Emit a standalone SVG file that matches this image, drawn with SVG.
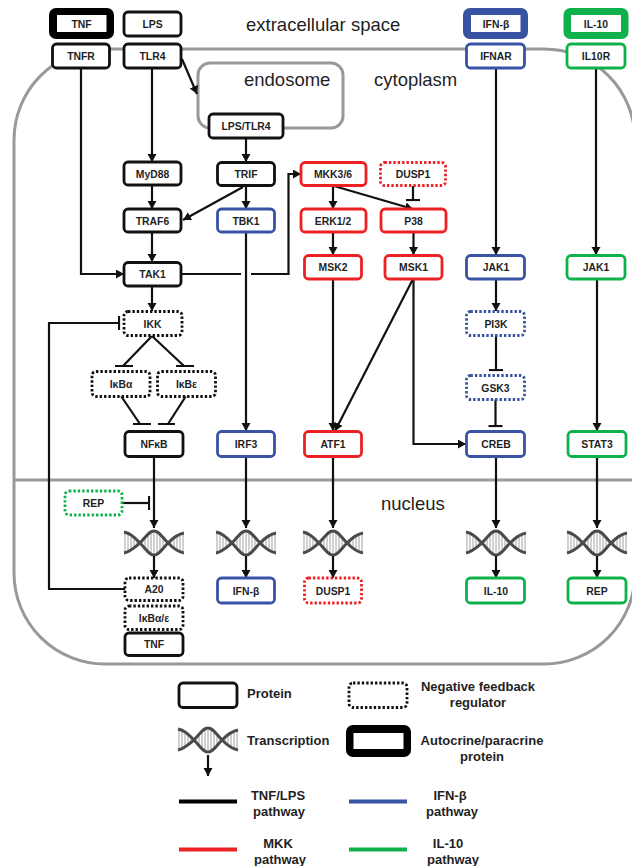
<svg xmlns="http://www.w3.org/2000/svg" xmlns:xlink="http://www.w3.org/1999/xlink" width="632" height="866" viewBox="0 0 632 866">
<style>
text{font-family:"Liberation Sans",Arial,sans-serif;fill:#1f1f1f}
.n rect{fill:#fff;stroke-width:2.8}
.n text{font-size:10.4px;font-weight:700;text-anchor:middle}
.k rect{stroke:#111}.b rect{stroke:#3953a4}.r rect{stroke:#ed2024}.g rect{stroke:#0fb14b}
.d rect{stroke-dasharray:2.4 2}
.t rect{stroke:none}
.t.k .o{fill:#000}.t.b .o{fill:#3953a4}.t.g .o{fill:#0fb14b}
.region{font-size:18.5px}
.lg{font-size:13px;font-weight:700;text-anchor:middle}
.ll{font-size:13px;font-weight:700}
.wall{fill:none;stroke:#999;stroke-width:3}
#connectors path{fill:none;stroke:#111;stroke-width:2.2}
.a{marker-end:url(#arrow)}
.i{marker-end:url(#tbar)}
.strand{fill:none;stroke:#4a4a4a;stroke-width:3}
.rung{stroke:#8a8a8a;stroke-width:.8}
</style>
<defs>
<marker id="arrow" markerUnits="userSpaceOnUse" markerWidth="10" markerHeight="10" refX="8" refY="4.500" orient="auto"><path d="M0 0L8 4.500L0 9Z" fill="#111"/></marker>
<marker id="tbar" markerUnits="userSpaceOnUse" markerWidth="4" markerHeight="16" refX="1.500" refY="7" orient="auto"><path d="M1.500 0V14" stroke="#111" stroke-width="2.200" fill="none"/></marker>
<g id="helix">
<path class="rung" d="M-29 3V23M-26 3V22M-23 5V20M-20 6V19M-17 9V16M-9 8V17M-6 5V20M-3 3V23M0 3V23M3 3V23M6 5V20M9 8V17M17 9V17M20 6V19M23 5V20M26 3V22M29 3V23"/>
<path class="strand" d="M-30 2C-24 3-20 7-14 13C-8 19-5 25 0 25C5 25 8 19 14 13C19 8 24 4 30 3"/>
<path class="strand" d="M-30 23C-24 22-20 18-14 13C-8 7-5 1 0 1C5 1 8 7 14 13C19 18 24 22 30 23"/>
</g>
</defs>

<g id="walls">
<rect class="wall" x="14" y="49" width="621" height="615" rx="91"/>
<path class="wall" d="M14 480H632"/>
<rect class="wall" x="198" y="63" width="145" height="65" rx="12"/>
</g>

<g id="labels">
<text class="region" x="246" y="31">extracellular space</text>
<text class="region" x="244" y="86">endosome</text>
<text class="region" x="374" y="86">cytoplasm</text>
<text class="region" x="381" y="510">nucleus</text>
</g>

<g id="helices">
<use xlink:href="#helix" href="#helix" x="154" y="530"/>
<use xlink:href="#helix" href="#helix" x="246" y="530"/>
<use xlink:href="#helix" href="#helix" x="333" y="530"/>
<use xlink:href="#helix" href="#helix" x="496" y="530"/>
<use xlink:href="#helix" href="#helix" x="597" y="530"/>
<use xlink:href="#helix" href="#helix" x="208" y="727"/>
</g>

<g id="connectors">
<path class="a" d="M81 68V274H124"/>
<path class="a" d="M152 68V162"/>
<path class="a" d="M182 59L197 94"/>
<path class="a" d="M246 138V162"/>
<path class="a" d="M152 185V209"/>
<path class="a" d="M243 187L183 220"/>
<path class="a" d="M246 186V209"/>
<path class="a" d="M152 233V262"/>
<path d="M181 274H241"/>
<path class="a" d="M251 274H288.500V174H301"/>
<path class="a" d="M246 232V431"/>
<path class="a" d="M152 286V311"/>
<path class="a" d="M333 186V209"/>
<path class="a" d="M334 186L413 209"/>
<path class="i" d="M413 186V200"/>
<path class="a" d="M333 232V255"/>
<path class="a" d="M413.500 232V255"/>
<path class="a" d="M333 279V431"/>
<path class="a" d="M413 279L335 431"/>
<path class="a" d="M413.500 279V444H466"/>
<path class="a" d="M496 68V255"/>
<path class="a" d="M496 279V311"/>
<path class="i" d="M496 335V370"/>
<path class="i" d="M495.500 399V426"/>
<path class="a" d="M596 68V255"/>
<path class="a" d="M597 279V431"/>
<path d="M152 336L123 366M115 366H133"/>
<path d="M152 336L184 366M176 366H194"/>
<path d="M121 396L140 424M133 424H151"/>
<path d="M186 396L168 424M158 424H175"/>
<path class="i" d="M125 589H49V323H119"/>
<path class="a" d="M154 456V528"/>
<path class="i" d="M122 503H149"/>
<path class="a" d="M246 456V528"/>
<path class="a" d="M333 456V528"/>
<path class="a" d="M496 456V528"/>
<path class="a" d="M597 456V528"/>
<path class="a" d="M154 556V578"/>
<path class="a" d="M246 556V578"/>
<path class="a" d="M333 556V578"/>
<path class="a" d="M496 556V578"/>
<path class="a" d="M597 556V578"/>
<path class="a" d="M208 755V776"/>
</g>

<g id="n-tnf-out" class="n k t"><rect class="o" x="49" y="8" width="65" height="31" rx="7"/><rect x="57" y="15" width="49.500" height="17"/><text x="81.500" y="28">TNF</text></g>
<g id="n-lps" class="n k"><rect x="124" y="12" width="57" height="24" rx="4"/><text x="152.500" y="28">LPS</text></g>
<g id="n-ifnb-out" class="n b t"><rect class="o" x="463" y="8" width="65" height="31" rx="7"/><rect x="471" y="15" width="49.500" height="17"/><text x="496" y="28">IFN-β</text></g>
<g id="n-il10-out" class="n g t"><rect class="o" x="563.500" y="8" width="65" height="31" rx="7"/><rect x="571" y="15" width="50" height="17"/><text x="596" y="28">IL-10</text></g>
<g id="n-tnfr" class="n k"><rect x="52.500" y="44" width="57" height="24" rx="4"/><text x="81" y="60">TNFR</text></g>
<g id="n-tlr4" class="n k"><rect x="124" y="44" width="57" height="24" rx="4"/><text x="152.500" y="60">TLR4</text></g>
<g id="n-ifnar" class="n b"><rect x="466.500" y="44" width="58" height="24" rx="4"/><text x="496" y="60">IFNAR</text></g>
<g id="n-il10r" class="n g"><rect x="567" y="44" width="58" height="24" rx="4"/><text x="596" y="60">IL10R</text></g>
<g id="n-lpstlr4" class="n k"><rect x="209" y="114" width="74" height="24" rx="4"/><text x="246" y="130">LPS/TLR4</text></g>
<g id="n-myd88" class="n k"><rect x="124" y="162" width="57" height="23" rx="4"/><text x="152.500" y="178">MyD88</text></g>
<g id="n-trif" class="n k"><rect x="217.500" y="162.500" width="57" height="23" rx="4"/><text x="246" y="178">TRIF</text></g>
<g id="n-mkk" class="n r"><rect x="301" y="162.500" width="65" height="23" rx="4"/><text x="333" y="178">MKK3/6</text></g>
<g id="n-dusp1a" class="n r d"><rect x="380.500" y="162.500" width="65" height="23" rx="4"/><text x="413" y="178">DUSP1</text></g>
<g id="n-traf6" class="n k"><rect x="124" y="209" width="57" height="23" rx="4"/><text x="152.500" y="225">TRAF6</text></g>
<g id="n-tbk1" class="n b"><rect x="217.500" y="209" width="57" height="23" rx="4"/><text x="246" y="225">TBK1</text></g>
<g id="n-erk" class="n r"><rect x="301" y="209" width="65" height="23" rx="4"/><text x="333" y="225">ERK1/2</text></g>
<g id="n-p38" class="n r"><rect x="381" y="209" width="65" height="23" rx="4"/><text x="413.500" y="225">P38</text></g>
<g id="n-tak1" class="n k"><rect x="124" y="262.500" width="57" height="23.500" rx="4"/><text x="152.500" y="278">TAK1</text></g>
<g id="n-msk2" class="n r"><rect x="304.500" y="255.500" width="57" height="23.500" rx="4"/><text x="333" y="271">MSK2</text></g>
<g id="n-msk1" class="n r"><rect x="385" y="255.500" width="57" height="23.500" rx="4"/><text x="413.500" y="271">MSK1</text></g>
<g id="n-jak1b" class="n b"><rect x="466.500" y="255.500" width="58" height="23.500" rx="4"/><text x="496" y="271">JAK1</text></g>
<g id="n-jak1g" class="n g"><rect x="567" y="255.500" width="58" height="23.500" rx="4"/><text x="596" y="271">JAK1</text></g>
<g id="n-ikk" class="n k d"><rect x="124" y="311.500" width="58" height="24" rx="4"/><text x="152.500" y="327.500">IKK</text></g>
<g id="n-pi3k" class="n b d"><rect x="466.500" y="311.500" width="58" height="24" rx="4"/><text x="496" y="327.500">PI3K</text></g>
<g id="n-ikba" class="n k d"><rect x="92" y="371.500" width="58" height="25" rx="4"/><text x="121" y="388">IκBα</text></g>
<g id="n-ikbe" class="n k d"><rect x="157.500" y="371.500" width="58" height="25" rx="4"/><text x="186.500" y="388">IκBε</text></g>
<g id="n-gsk3" class="n b d"><rect x="466.500" y="375.500" width="58" height="24" rx="4"/><text x="495.500" y="391.500">GSK3</text></g>
<g id="n-nfkb" class="n k"><rect x="125" y="431.500" width="58" height="25" rx="4"/><text x="154" y="448">NFκB</text></g>
<g id="n-irf3" class="n b"><rect x="217.500" y="431.500" width="57" height="25" rx="4"/><text x="246" y="448">IRF3</text></g>
<g id="n-atf1" class="n r"><rect x="304.500" y="431.500" width="57" height="25" rx="4"/><text x="333" y="448">ATF1</text></g>
<g id="n-creb" class="n b"><rect x="466.500" y="431.500" width="58" height="25" rx="4"/><text x="496" y="448">CREB</text></g>
<g id="n-stat3" class="n g"><rect x="568" y="431.500" width="58" height="25" rx="4"/><text x="597" y="448">STAT3</text></g>
<g id="n-repd" class="n g d"><rect x="65" y="491" width="57" height="24" rx="4"/><text x="93.500" y="507">REP</text></g>
<g id="n-a20" class="n k d"><rect x="125" y="578" width="58" height="22.500" rx="4"/><text x="154" y="593">A20</text></g>
<g id="n-ifnb" class="n b"><rect x="217.500" y="578" width="57" height="25" rx="4"/><text x="246" y="594.500">IFN-β</text></g>
<g id="n-dusp1b" class="n r d"><rect x="304.500" y="578" width="57" height="25" rx="4"/><text x="333" y="594.500">DUSP1</text></g>
<g id="n-il10" class="n g"><rect x="466.500" y="578" width="58" height="25" rx="4"/><text x="496" y="594.500">IL-10</text></g>
<g id="n-rep" class="n g"><rect x="568" y="578" width="58" height="25" rx="4"/><text x="597" y="594.500">REP</text></g>
<g id="n-ikbae" class="n k d"><rect x="125" y="606" width="58" height="23.500" rx="4"/><text x="154" y="621.500">IκBα/ε</text></g>
<g id="n-tnf" class="n k"><rect x="125" y="633" width="58" height="22.500" rx="4"/><text x="154" y="648">TNF</text></g>

<g id="legend">
<g class="n k"><rect x="179" y="683" width="58" height="24.500" rx="4"/></g>
<text class="ll" x="247" y="698">Protein</text>
<g class="n k d"><rect x="349" y="683" width="58" height="24.500" rx="4"/></g>
<text class="lg" x="478" y="691">Negative feedback</text>
<text class="lg" x="478" y="707">regulator</text>
<text class="ll" x="247" y="745">Transcription</text>
<g class="n k t"><rect class="o" x="346" y="725" width="65" height="32" rx="7"/><rect x="353.500" y="733" width="50" height="16"/></g>
<text class="lg" x="482" y="745">Autocrine/paracrine</text>
<text class="lg" x="482" y="761">protein</text>
<path d="M179 801.500H237" stroke="#000" stroke-width="4"/>
<path d="M349 801.500H407" stroke="#3953a4" stroke-width="4"/>
<path d="M179 849.500H237" stroke="#ed2024" stroke-width="4"/>
<path d="M349 849.500H407" stroke="#0fb14b" stroke-width="4"/>
<text class="lg" x="278" y="800">TNF/LPS</text>
<text class="lg" x="279" y="816">pathway</text>
<text class="lg" x="450" y="800">IFN-β</text>
<text class="lg" x="452" y="816">pathway</text>
<text class="lg" x="278" y="848">MKK</text>
<text class="lg" x="280" y="864">pathway</text>
<text class="lg" x="448" y="848">IL-10</text>
<text class="lg" x="453" y="864">pathway</text>
</g>
</svg>
